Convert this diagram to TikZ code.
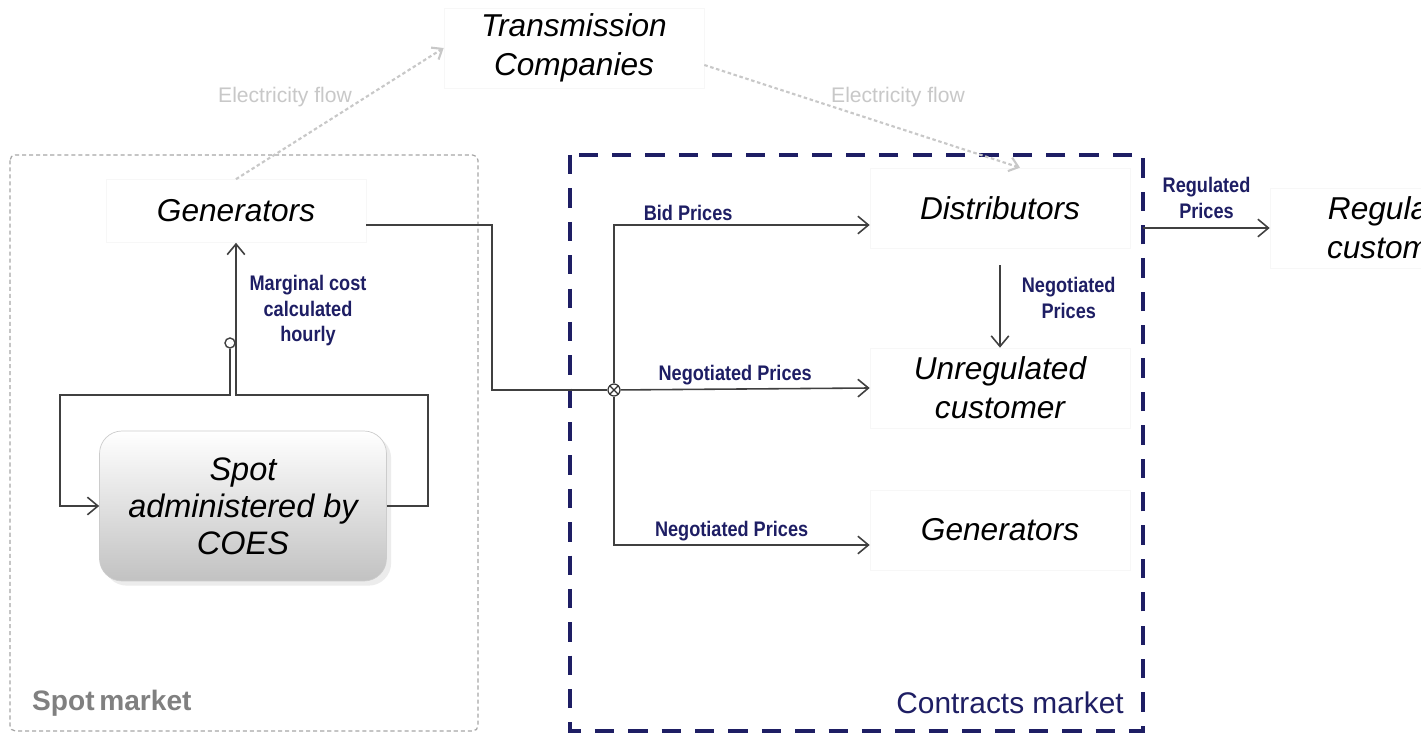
\documentclass[tikz,border=0pt]{standalone}
\usepackage{fontspec}
\setmainfont{Liberation Sans}
\newfontfamily\narrowfont[FakeStretch=0.86]{Liberation Sans}
\usetikzlibrary{arrows.meta,calc,shadows}
\definecolor{navy}{RGB}{30,30,100}
\definecolor{flowgray}{RGB}{200,200,200}
\definecolor{markgray}{RGB}{128,128,128}

\begin{document}
\begin{tikzpicture}[x=0.02cm, y=-0.02cm,
        actor/.style={draw=black!3, align=center, font=\fontsize{18}{22}\selectfont\itshape, minimum width=5.2cm, minimum height=1.6cm},
        price/.style={align=center, text=navy, font=\narrowfont\fontsize{12}{14.5}\selectfont\bfseries, inner sep=2pt},
        flecha/.style={-{Straight Barb[length=6pt,width=10pt]}, draw=black!75, line width=0.9pt},
        flujo/.style={-{Straight Barb[length=5pt,width=8pt]}, draw=flowgray, line width=1.2pt, dash pattern=on 2pt off 1.5pt},
        flowlbl/.style={text=flowgray, font=\fontsize{12}{14}\selectfont}
    ]
    \clip (0,0) rectangle (1421,736);
    \fill[white] (0,0) rectangle (1421,736);

    % market frames
    \draw[markgray!70, line width=0.7pt, dash pattern=on 2.3pt off 1.7pt, rounded corners=3pt] (10,155) rectangle (478,731);
    \draw[navy, line width=2.4pt, dash pattern=on 11pt off 8pt] (570,155) rectangle (1143,731);
    \node[anchor=west, text=markgray, font=\fontsize{16}{18}\selectfont\bfseries] (spotlbl) at (26,703) {Spot\,market};
    \node[anchor=east, text=navy, font=\fontsize{17}{19}\selectfont] (contlbl) at (1130,703) {Contracts market};

    % actors
    \node[actor] (trans) at (574,48) {Transmission\\Companies};
    \node[actor, minimum height=1.26cm] (genL) at (236,211) {Generators};
    \node[actor] (dist) at (1000,208) {Distributors};
    \node[actor] (unreg) at (1000,388) {Unregulated\\customer};
    \node[actor] (genR) at (1000,530) {Generators};
    \node[actor] (regC) at (1400,228) {Regulated\\customers};
    \node[draw=black!20, rounded corners=0.45cm, top color=white, bottom color=black!24,
          drop shadow={opacity=0.15}, align=center, font=\fontsize{18.5}{21}\selectfont\itshape,
          minimum width=5.74cm, minimum height=3cm] (spot) at (243,506) {Spot\\administered by\\COES};

    % electricity flow
    \draw[flujo] (genL.north) -- (trans.west);
    \draw[flujo] ([yshift=-0.34cm]trans.east) -- ([xshift=0.4cm]dist.north);
    \node[flowlbl] (flowA) at (285,97) {Electricity flow};
    \node[flowlbl] (flowB) at (898,97) {Electricity flow};

    % spot loop
    \coordinate (loopR) at (428,395);
    \coordinate (loopL) at (60,395);
    \node[circle, draw=black!75, line width=0.8pt, inner sep=0pt, minimum size=0.2cm] (circ) at (230,343) {};
    \draw[flecha] (spot.east) -| (loopR) -| (genL.south);
    \draw[flecha] (circ.south) |- (loopL) |- (spot.west);
    \node[price] (mc) at (308,311) {Marginal cost\\calculated\\hourly};

    % contracts
    \coordinate (kink) at (492,390);
    \node[circle, draw=black!80, line width=0.7pt, inner sep=0pt, minimum size=0.24cm,
          path picture={\draw[black!80] (path picture bounding box.north west) -- (path picture bounding box.south east)
                        (path picture bounding box.north east) -- (path picture bounding box.south west);}] (J) at (614,390) {};
    \draw[flecha, -] ([yshift=-0.28cm]genL.east) -| (kink) -- (J);
    \draw[flecha] (J) |- ([yshift=-0.34cm]dist.west) node[price, above, pos=0.645] {Bid Prices};
    \draw[flecha] (J) -- (unreg.west) node[price, above, pos=0.46] {Negotiated Prices};
    \draw[flecha] (J) |- ([yshift=-0.3cm]genR.west) node[price, above, pos=0.73] {Negotiated Prices};
    \draw[flecha, shorten <=0.34cm] (dist.south) -- (unreg.north) node[price, midway, right=10pt] {Negotiated\\Prices};
    \draw[flecha] ([xshift=0.26cm]dist.east |- regC.west) -- (regC.west) node[price, midway, above=3pt] {Regulated\\Prices};
\end{tikzpicture}
\end{document}
